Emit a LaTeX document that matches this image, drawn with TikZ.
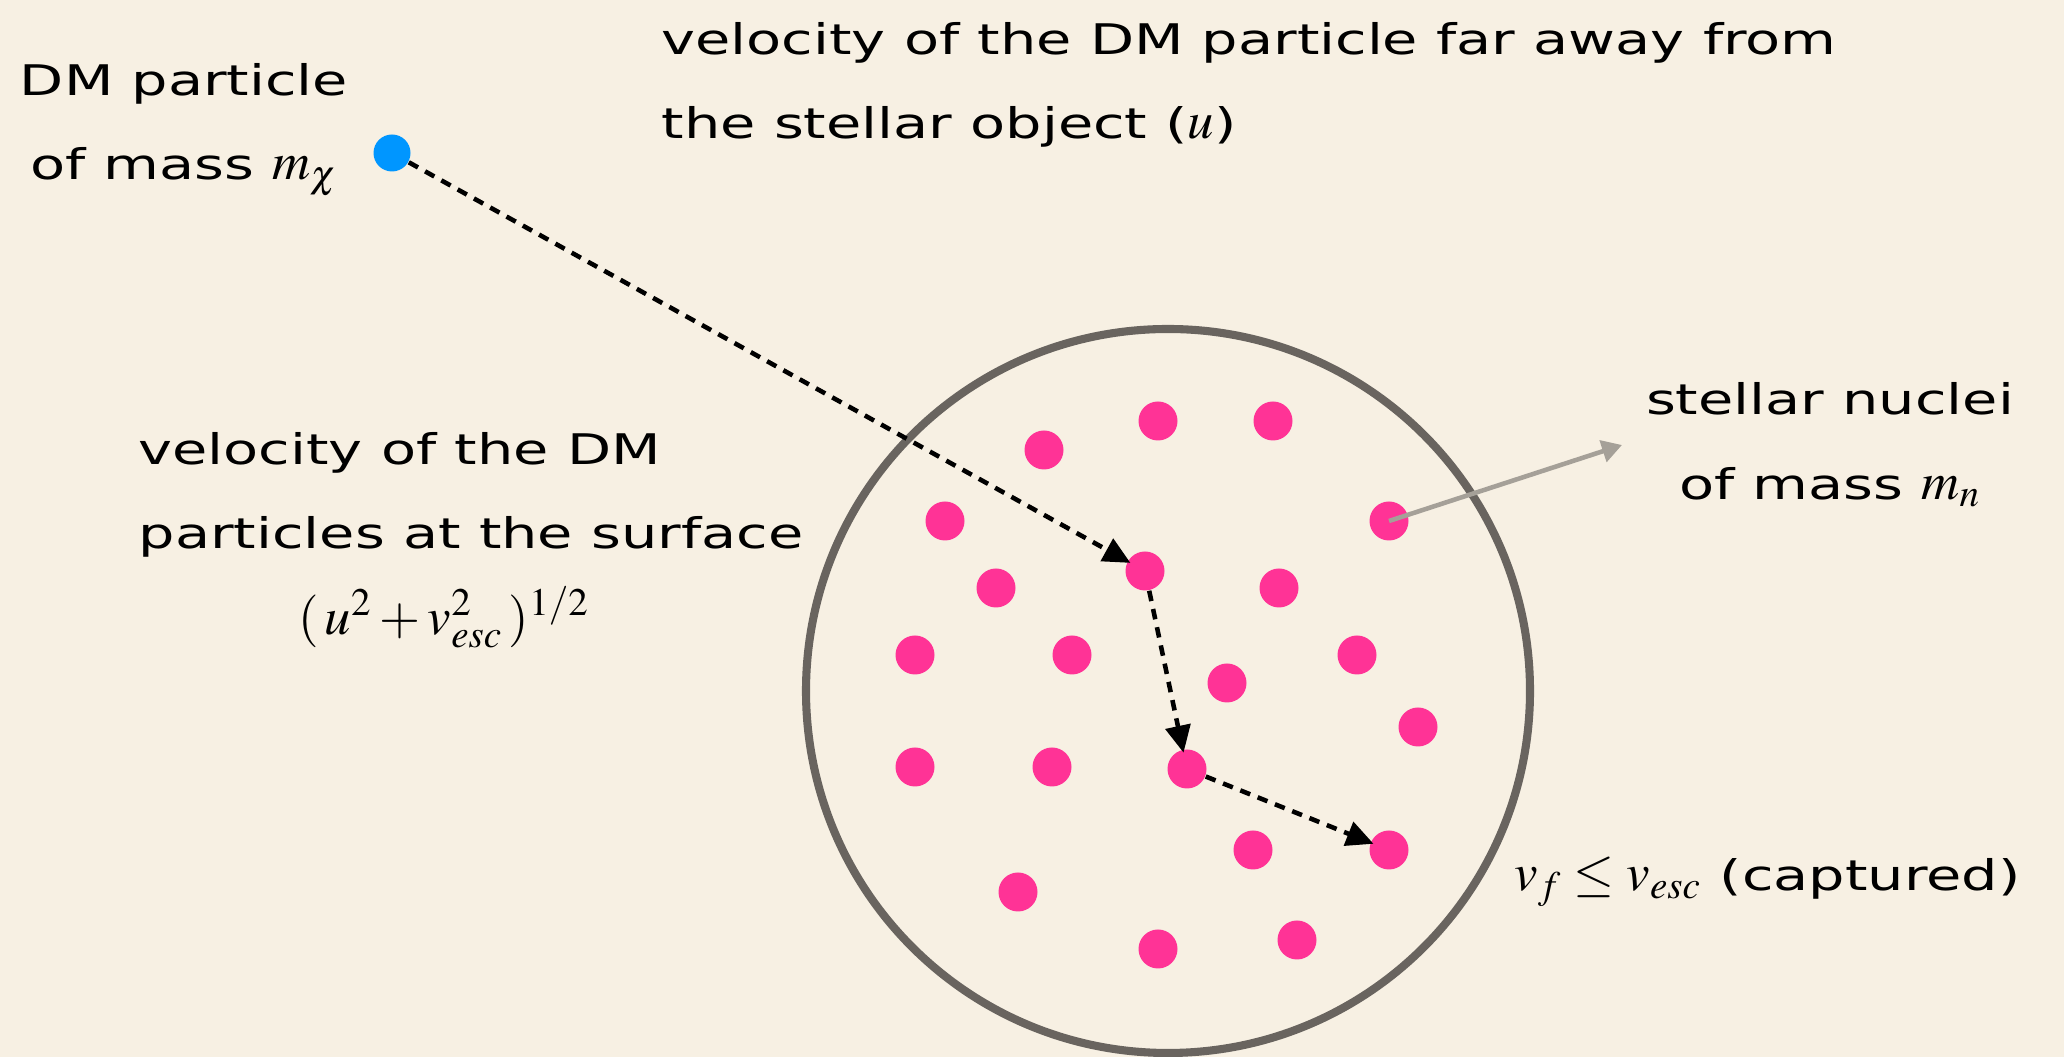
\documentclass[tikz,border=0pt]{standalone}
\usepackage{mathptmx}
\usepackage[no-math]{fontspec}
\setmainfont[FakeStretch=1.36]{DejaVu Sans}
\usetikzlibrary{positioning,arrows.meta}

\definecolor{bgbeige}{RGB}{247,240,227}
\definecolor{nucpink}{RGB}{255,51,150}
\definecolor{dmblue}{RGB}{0,150,255}
\definecolor{rimgray}{RGB}{105,100,95}
\definecolor{pointgray}{RGB}{165,160,152}

% math a little larger than the text, as on the slide
\newcommand\mth[1]{{\fontsize{15pt}{24pt}\selectfont$#1$}}

\tikzset{
  lbl/.style={font=\fontsize{12pt}{24pt}\selectfont, inner sep=0pt},
  nucleus/.style={circle, fill=nucpink, minimum size=0.39cm, inner sep=0pt},
  dmpath/.style={black, line width=1.3pt, dash pattern=on 3pt off 2.3pt,
    -{Triangle[length=0.27cm, width=0.25cm]}, shorten >=-1pt},
  pointer/.style={pointgray, line width=1.3pt, -{Triangle[length=0.2cm, width=0.22cm]}}
}

\begin{document}
\begin{tikzpicture}
  \useasboundingbox (0,0) rectangle (20.64,10.57);
  \fill[bgbeige] (0,0) rectangle (20.64,10.57);

  % the stellar object
  \node[draw=rimgray, line width=2.3pt, circle, minimum size=7.24cm] (star) at (11.68,3.66) {};

  % nuclei inside the star
  \foreach \x/\y [count=\i] in {11.58/6.36, 12.73/6.36, 10.44/6.07, 9.45/5.36, 13.89/5.36,
      11.45/4.86, 9.96/4.69, 12.79/4.69, 9.15/4.02, 10.72/4.02, 13.57/4.02, 12.27/3.74,
      14.18/3.30, 9.15/2.90, 10.52/2.90, 11.87/2.88, 12.53/2.07, 13.89/2.07, 10.18/1.65,
      11.58/1.08, 12.97/1.17}
    \node[nucleus] (n\i) at (\x,\y) {};

  % incoming DM particle
  \node[circle, fill=dmblue, minimum size=0.37cm, inner sep=0pt] (dm) at (3.92,9.04) {};

  % scattering path
  \draw[dmpath] (dm) -- (n6);
  \draw[dmpath] (n6) -- (n16);
  \draw[dmpath] (n16) -- (n18);

  % labels
  \node[lbl, align=center] (dmlbl) at (1.84,9.27) {DM particle\\of mass \mth{m_\chi}};
  \node[lbl, align=left, anchor=west] (farlbl) at (6.61,9.72)
    {velocity of the DM particle far away from\\the stellar object (\mth{u})};
  \node[lbl, align=left, anchor=west] (surflbl) at (1.38,5.62)
    {velocity of the DM\\particles at the surface};
  \node[lbl] (surfeq) at (4.44,4.40) {\mth{(\,u^2+v_{esc}^2\,)^{1/2}}};
  \node[lbl, align=center] (nuclbl) at (18.30,6.12) {stellar nuclei\\of mass \mth{m_n}};
  \coordinate (nucend) at (16.22,6.12);
  \draw[pointer] (n5.center) -- (nucend);
  \node[lbl, anchor=west] (caplbl) at (15.14,1.75) {\mth{v_f \le v_{esc}} (captured)};
\end{tikzpicture}
\end{document}
